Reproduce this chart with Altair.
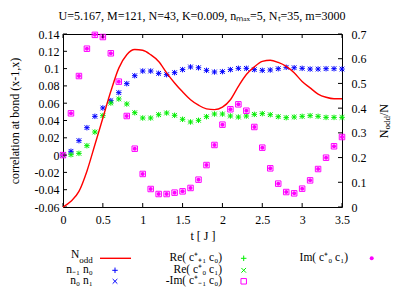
import altair as alt
import pandas as pd

# ---------------- data ----------------
t = [0.0, 0.1, 0.2, 0.3, 0.4, 0.5, 0.6, 0.7, 0.8, 0.9,
     1.0, 1.1, 1.2, 1.3, 1.4, 1.5, 1.6, 1.7, 1.8, 1.9,
     2.0, 2.1, 2.2, 2.3, 2.4, 2.5, 2.6, 2.7, 2.8, 2.9,
     3.0, 3.1, 3.2, 3.3, 3.4, 3.5]

# n_{-1} n_0  and  n_0 n_1 (coincide)
nn = [0.0, 0.0044, 0.0167, 0.0317, 0.0448, 0.0545, 0.0629, 0.0722, 0.0826, 0.0918,
      0.0972, 0.0972, 0.0945, 0.0930, 0.0953, 0.0988, 0.1019, 0.1010, 0.0980, 0.0961,
      0.0965, 0.0988, 0.1003, 0.1003, 0.0988, 0.0980, 0.0984, 0.0999, 0.1015, 0.1010,
      0.1003, 0.0995, 0.0995, 0.0999, 0.0999, 0.0995]

# Re(c+_{+1} c_0) and Re(c+_0 c_1) (coincide)
re_cc = [0.0, 0.0005, 0.0020, 0.0109, 0.0267, 0.0456, 0.0602, 0.0649, 0.0591, 0.0490,
         0.0429, 0.0429, 0.0467, 0.0487, 0.0460, 0.0414, 0.0383, 0.0402, 0.0444, 0.0475,
         0.0475, 0.0452, 0.0440, 0.0452, 0.0471, 0.0479, 0.0467, 0.0444, 0.0433, 0.0440,
         0.0448, 0.0456, 0.0448, 0.0436, 0.0436, 0.0436]

# -Im(c+_{-1} c_0) and Im(c+_0 c_1) (coincide)
im_cc = [0.0, 0.0483, 0.0914, 0.1230, 0.1390, 0.1365, 0.1177, 0.0849, 0.0452, 0.0074,
         -0.0218, -0.0392, -0.0450, -0.0450, -0.0434, -0.0419, -0.0380, -0.0284, -0.0115, 0.0117,
         0.0352, 0.0530, 0.0587, 0.0513, 0.0325, 0.0086, -0.0153, -0.0330, -0.0427, -0.0442,
         -0.0388, -0.0292, -0.0161, -0.0030, 0.0102, 0.0209]

# N_odd / N (right axis)
n_odd = [0.0, 0.023, 0.063, 0.145, 0.252, 0.360, 0.468, 0.562, 0.616, 0.637,
         0.634, 0.616, 0.589, 0.543, 0.502, 0.466, 0.434, 0.412, 0.397, 0.394,
         0.404, 0.434, 0.488, 0.536, 0.567, 0.589, 0.594, 0.585, 0.569, 0.543,
         0.508, 0.482, 0.457, 0.444, 0.438, 0.438]

x_ticks = [0, 0.5, 1, 1.5, 2, 2.5, 3, 3.5]
y_ticks = [-0.06, -0.04, -0.02, 0, 0.02, 0.04, 0.06, 0.08, 0.1, 0.12, 0.14]
y2_ticks = [0, 0.1, 0.2, 0.3, 0.4, 0.5, 0.6, 0.7]

title_text = "U=5.167, M=121, N=43, K=0.009, n\u2098\u2090\u2093=5, N\u209c=35, m=3000"
y_title = "correlation at bond (x-1,x)"
x_title = "t [ J ]"

# ---------------- styling ----------------
W, H = 279, 173
FONT = "Liberation Serif"
FS = 12
RED, BLUE, GREEN, MAG = "#ff0000", "#0000ff", "#00ee00", "#ff00ff"
PLUS = "M-1,0L1,0M0,-1L0,1"
CROSS = "M-1,-1L1,1M-1,1L1,-1"
LBL = "replace(format(datum.value, '~g'), '\u2212', '-')"

df = pd.DataFrame({"t": t, "nn": nn, "re": re_cc, "im": im_cc, "nodd": n_odd})
one = pd.DataFrame({"a": [0]})

xs = alt.Scale(domain=[0, 3.5], nice=False, zero=False)
ys = alt.Scale(domain=[-0.06, 0.14], nice=False, zero=False)
y2s = alt.Scale(domain=[0, 0.7], nice=False, zero=False)

AX = dict(labelFont=FONT, labelFontSize=FS, labelColor="black", titleFont=FONT,
          titleFontSize=FS, titleFontWeight="normal", titleColor="black",
          labelOverlap=False, labelFlush=False, domain=False, ticks=False, grid=False)

x_axis = alt.Axis(values=x_ticks, title=x_title, labelExpr=LBL, labelPadding=7,
                  titlePadding=5, orient="bottom", **AX)
y_axis = alt.Axis(values=y_ticks, title=y_title, labelExpr=LBL, labelPadding=4,
                  titlePadding=13, orient="left", **AX)
y2_axis = alt.Axis(values=y2_ticks, title=None, labelExpr=LBL, labelPadding=9,
                   orient="right", **AX)


def X(field):
    return alt.X(field, type="quantitative", scale=xs, axis=x_axis)


def Y(field):
    return alt.Y(field, type="quantitative", scale=ys, axis=y_axis)


def Y2(field):
    return alt.Y(field, type="quantitative", scale=y2s, axis=y2_axis)


base = alt.Chart(df)


def pts(field, shape, color, size, filled):
    return base.mark_point(shape=shape, color=color, size=size, filled=filled,
                           strokeWidth=1, opacity=1, clip=False).encode(x=X("t"), y=Y(field))


layers_left = [
    pts("nn", PLUS, BLUE, 30, False),
    pts("nn", CROSS, BLUE, 22, False),
    pts("re", PLUS, GREEN, 30, False),
    pts("re", CROSS, GREEN, 22, False),
    pts("im", "square", MAG, 30, False),
    pts("im", "circle", MAG, 16, True),
]

xt = alt.Chart(pd.DataFrame({"v": x_ticks}))
yt = alt.Chart(pd.DataFrame({"v": y_ticks}))
y2t = alt.Chart(pd.DataFrame({"v": y2_ticks}))

layers_left += [
    xt.mark_rule(color="black", strokeWidth=1).encode(x=X("v"), y=alt.value(H - 4), y2=alt.value(H)),
    xt.mark_rule(color="black", strokeWidth=1).encode(x=X("v"), y=alt.value(0), y2=alt.value(4)),
    yt.mark_rule(color="black", strokeWidth=1).encode(y=Y("v"), x=alt.value(0), x2=alt.value(4)),
]

left = alt.layer(*layers_left)

right = alt.layer(
    base.mark_line(color=RED, strokeWidth=1.4, interpolate="monotone").encode(x=X("t"), y=Y2("nodd")),
    y2t.mark_rule(color="black", strokeWidth=1).encode(y=Y2("v"), x=alt.value(W - 4), x2=alt.value(W)),
)


def txt(s, x, y, size=FS, align="right", angle=0):
    return alt.Chart(one).mark_text(text=s, font=FONT, fontSize=size, align=align,
                                    baseline="middle", angle=angle, color="black").encode(
        x=alt.value(x), y=alt.value(y))


def sym(shape, color, size, filled, x, y):
    return alt.Chart(one).mark_point(shape=shape, color=color, size=size, filled=filled,
                                     strokeWidth=1, opacity=1).encode(x=alt.value(x), y=alt.value(y))


LF = 11.5
r1, r2, r3 = 224.3, 236.3, 247.3
c1t, c1s = 29.7, 52
c2t, c2s = 159, 180.7
c3t, c3s = 285, 308.7
tx = 320.5

deco = alt.layer(
    txt(title_text, 139, -18.3, align="center"),
    # right axis title  N_odd/N
    txt("N", tx, 104.3, align="left", angle=270),
    txt("odd", tx + 3.5, 95.6, size=9, align="left", angle=270),
    txt("/N", tx, 82.1, align="left", angle=270),
    # legend column 1
    txt("N", c1t - 13.5, r1 - 3, size=LF, align="right"),
    txt("odd", c1t, r1 + 2, size=9, align="right"),
    alt.Chart(one).mark_rule(color=RED, strokeWidth=1.4).encode(
        x=alt.value(37), x2=alt.value(68), y=alt.value(r1)),
    txt("n\u208b\u2081 n\u2080", c1t, r2, size=LF),
    sym(PLUS, BLUE, 30, False, c1s, r2),
    txt("n\u2080 n\u2081", c1t, r3, size=LF),
    sym(CROSS, BLUE, 22, False, c1s, r3),
    # legend column 2
    txt("Re( c\u207a\u208a\u2081 c\u2080)", c2t, r1, size=LF),
    sym(PLUS, GREEN, 30, False, c2s, r1),
    txt("Re( c\u207a\u2080 c\u2081)", c2t, r2, size=LF),
    sym(CROSS, GREEN, 22, False, c2s, r2),
    txt("-Im( c\u207a\u208b\u2081 c\u2080)", c2t, r3, size=LF),
    sym("square", MAG, 30, False, c2s, r3),
    # legend column 3
    txt("Im( c\u207a\u2080 c\u2081)", c3t, r1, size=LF),
    sym("circle", MAG, 16, True, c3s, r1),
)

chart = alt.layer(left, right, deco).resolve_scale(y="independent").properties(
    width=W, height=H,
    background="white",
    autosize=alt.AutoSizeParams(type="none"),
    padding={"left": 55, "top": 26, "right": 65, "bottom": 80},
).configure_view(stroke="black", strokeWidth=1).configure_axis(
    labelFont=FONT, labelFontSize=FS, labelColor="black",
    titleFont=FONT, titleFontSize=FS, titleFontWeight="normal", titleColor="black",
    domain=False, ticks=False, tickSize=0, grid=False,
)

chart.save("out.html", embed_options={"renderer": "svg", "actions": False})
